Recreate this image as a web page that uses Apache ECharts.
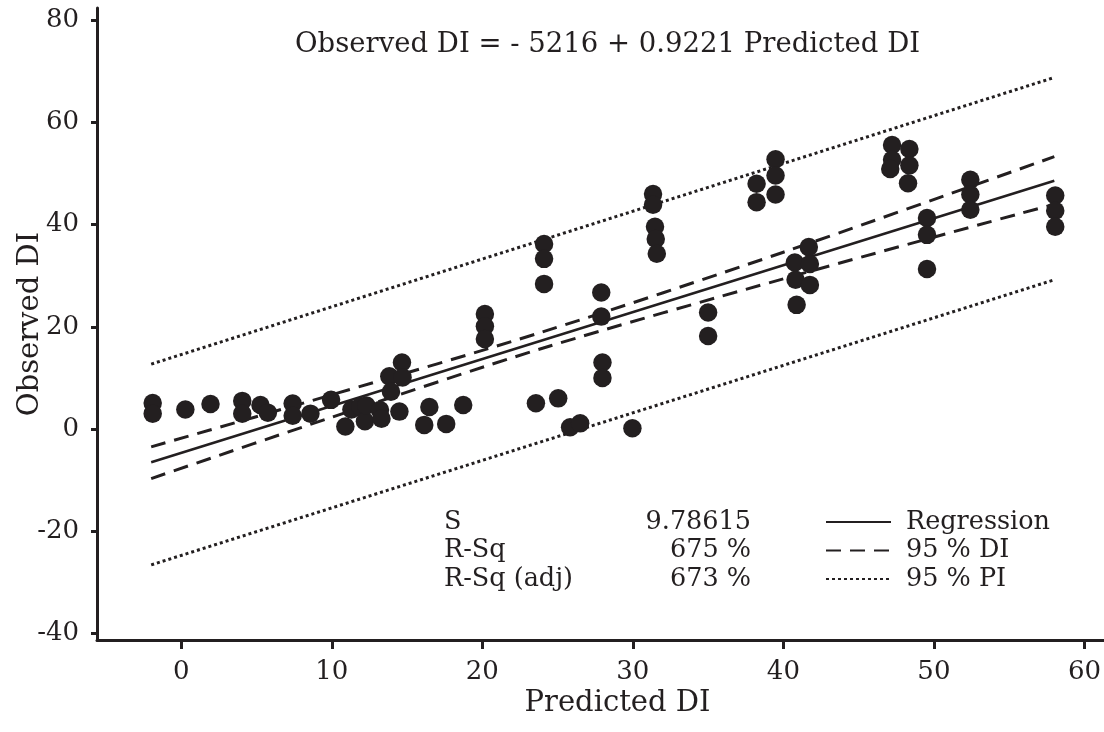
<!DOCTYPE html>
<html>
<head>
<meta charset="utf-8">
<script src="https://cdn.jsdelivr.net/npm/echarts@6/dist/echarts.min.js"></script>
<style>
html,body{margin:0;padding:0;background:#fff;}
#chart{width:1104px;height:732px;}
</style>
</head>
<body>
<div id="chart"></div>
<script>
// ---- data ----
const predicted = [
  -1.9, -1.9, 0.27, 1.94, 4.05, 4.05, 5.26, 5.75, 7.4, 7.4, 8.58, 9.95,
  10.9, 11.3, 11.9, 12.2, 12.3, 13.2, 13.3, 13.82, 13.93, 14.66, 14.7, 14.49, 16.48, 16.14, 17.6, 18.73,
  20.17, 20.17, 20.17, 23.56, 24.1, 24.1, 24.1, 25.04, 25.83, 26.5, 27.9, 27.9, 27.98, 27.98, 29.97,
  31.34, 31.34, 31.47, 31.52, 31.59, 35.0, 35.0, 38.22, 38.22, 39.48, 39.48, 39.48,
  40.76, 40.81, 40.88, 41.69, 41.76, 41.76,
  47.22, 47.22, 47.1, 48.37, 48.37, 48.28, 49.54, 49.54, 49.54, 52.42, 52.42, 52.42, 58.06, 58.06, 58.06
];
const observed = [
  5.1, 3.0, 3.8, 4.9, 5.5, 3.0, 4.7, 3.2, 5.0, 2.6, 3.0, 5.7,
  0.5, 3.8, 4.4, 1.5, 4.6, 3.7, 2.0, 10.3, 7.3, 13.0, 10.1, 3.4, 4.3, 0.8, 1.0, 4.7,
  22.5, 20.1, 17.6, 5.05, 36.2, 33.3, 28.4, 6.0, 0.35, 1.1, 26.7, 22.0, 13.0, 10.0, 0.15,
  46.0, 43.9, 39.6, 37.2, 34.3, 22.8, 18.2, 48.0, 44.4, 52.8, 49.6, 45.9,
  32.6, 29.2, 24.3, 35.6, 32.3, 28.2,
  55.6, 52.7, 50.9, 54.8, 51.6, 48.1, 41.3, 38.0, 31.3, 48.8, 45.9, 42.9, 45.7, 42.7, 39.6
];
// fitted lines (end points / sample points)
const regX = [-2, 58];
const regY = [-6.5, 48.6];
const ciX = [-2, 10, 24, 40, 58];
const ciUpper = [-3.5, 6.7, 19.0, 34.6, 53.3];
const ciLower = [-9.7, 2.3, 15.8, 29.4, 44.0];
const piX = [-2, 58];
const piUpper = [12.7, 68.8];
const piLower = [-26.6, 29.2];
const xTicks = [0, 10, 20, 30, 40, 50, 60];
const yTicks = [-40, -20, 0, 20, 40, 60, 80];
const titleText = 'Observed DI = - 5216 + 0.9221 Predicted DI';
const statNames = ['S', 'R-Sq', 'R-Sq (adj)'];
const statValues = ['9.78615', '675 %', '673 %'];

// ---- build ----
const INK = '#231f20';
const FONT = 'DejaVu Serif';
const zip = (xs, ys) => xs.map((x, i) => [x, ys[i]]);

const chart = echarts.init(document.getElementById('chart'), null, {renderer: 'canvas'});

const statGraphics = [];
statNames.forEach((n, i) => {
  statGraphics.push({
    type: 'text', left: 444, top: 509 + i * 28.5,
    style: {text: n, font: '25.5px "' + FONT + '"', fill: INK}
  });
  statGraphics.push({
    type: 'text', right: 1104 - 751, top: 509 + i * 28.5,
    style: {text: statValues[i], font: '25.5px "' + FONT + '"', fill: INK, textAlign: 'right'}
  });
});

const option = {
  backgroundColor: '#fff',
  animation: false,
  title: {
    text: titleText, left: 290, top: 26,
    textStyle: {fontFamily: FONT, fontSize: 27.5, fontWeight: 'normal', color: INK}
  },
  grid: {left: 97, right: 0, top: 8, bottom: 92, containLabel: false, outerBoundsMode: 'none'},
  xAxis: {
    type: 'value', min: -5.6, max: 61.3,
    name: 'Predicted DI', nameLocation: 'middle', nameGap: 49, nameMoveOverlap: false,
    nameTextStyle: {fontFamily: FONT, fontSize: 29, color: INK, padding: [0, 0, 0, 34]},
    axisLine: {onZero: false, lineStyle: {color: INK, width: 3}},
    axisTick: {show: true, customValues: xTicks, length: 9, lineStyle: {color: INK, width: 3}},
    axisLabel: {customValues: xTicks, fontFamily: FONT, fontSize: 26, color: INK, margin: 19},
    splitLine: {show: false}
  },
  yAxis: {
    type: 'value', min: -41.3, max: 82.4,
    name: 'Observed DI', nameLocation: 'middle', nameGap: 52, nameRotate: 90, nameMoveOverlap: false,
    nameTextStyle: {fontFamily: FONT, fontSize: 29, color: INK},
    axisLine: {onZero: false, lineStyle: {color: INK, width: 3}},
    axisTick: {show: true, customValues: yTicks, length: 6, lineStyle: {color: INK, width: 3}},
    axisLabel: {customValues: yTicks, fontFamily: FONT, fontSize: 26, color: INK, margin: 18},
    splitLine: {show: false}
  },
  legend: {
    orient: 'vertical', left: 820, top: 504,
    itemWidth: 65, itemHeight: 14, itemGap: 2.5,
    data: ['Regression', '95 % DI', '95 % PI'],
    itemStyle: {color: 'rgba(0,0,0,0)', borderColor: 'rgba(0,0,0,0)', borderWidth: 0},
    textStyle: {fontFamily: FONT, fontSize: 25.5, color: INK, padding: [0, 0, 0, 10]},
    selectedMode: false
  },
  graphic: statGraphics,
  series: [
    {
      name: 'Regression', type: 'line', data: zip(regX, regY), symbol: 'none',
      lineStyle: {color: INK, width: 2.5, type: 'solid'}, itemStyle: {color: INK}, z: 2
    },
    {
      name: '95 % DI', type: 'line', data: zip(ciX, ciUpper), symbol: 'none', smooth: 0.3,
      lineStyle: {color: INK, width: 3, type: [15, 9]}, itemStyle: {color: INK}, z: 2
    },
    {
      name: '95 % DI', type: 'line', data: zip(ciX, ciLower), symbol: 'none', smooth: 0.3,
      lineStyle: {color: INK, width: 3, type: [15, 9]}, itemStyle: {color: INK}, z: 2
    },
    {
      name: '95 % PI', type: 'line', data: zip(piX, piUpper), symbol: 'none',
      lineStyle: {color: INK, width: 3, type: [3, 3]}, itemStyle: {color: INK}, z: 2
    },
    {
      name: '95 % PI', type: 'line', data: zip(piX, piLower), symbol: 'none',
      lineStyle: {color: INK, width: 3, type: [3, 3]}, itemStyle: {color: INK}, z: 2
    },
    {
      name: 'Observed', type: 'scatter', data: zip(predicted, observed),
      symbol: 'circle', symbolSize: 18.5, itemStyle: {color: INK, opacity: 1}, z: 3
    }
  ]
};
chart.setOption(option);
</script>
</body>
</html>
